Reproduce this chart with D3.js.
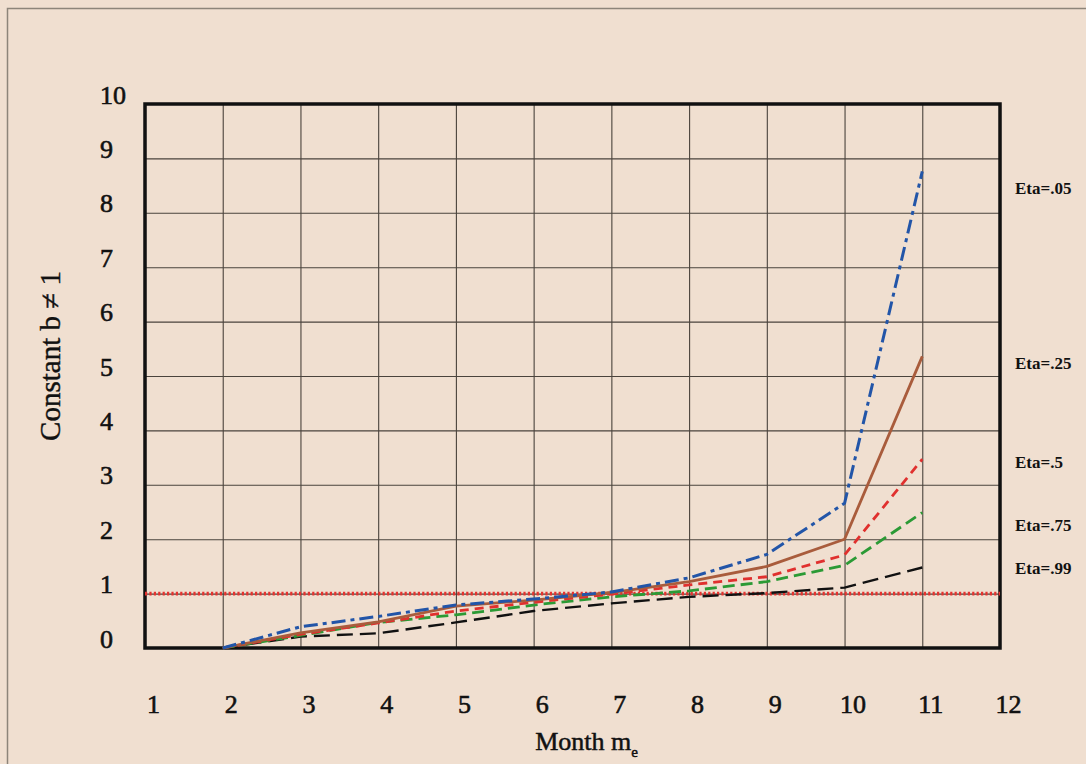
<!DOCTYPE html>
<html>
<head>
<meta charset="utf-8">
<script src="https://cdn.jsdelivr.net/npm/d3@7/dist/d3.min.js"></script>
<style>
  html, body { margin: 0; padding: 0; background: #f0dfd0; }
  svg { display: block; }
  text { font-family: "Liberation Serif", "Times New Roman", serif; fill: #111; }
</style>
</head>
<body>
<svg id="chart" width="1086" height="764"></svg>
<script>
// ---- data ----
const months = [2, 3, 4, 5, 6, 7, 8, 9, 10, 11];
const seriesNames = ["Eta=.05", "Eta=.25", "Eta=.5", "Eta=.75", "Eta=.99"];
const eta05 = [0, 0.39, 0.58, 0.79, 0.90, 1.03, 1.29, 1.72, 2.66, 8.76];
const eta25 = [0, 0.28, 0.48, 0.77, 0.88, 1.02, 1.22, 1.50, 2.00, 5.36];
const eta50 = [0, 0.25, 0.46, 0.68, 0.84, 0.99, 1.16, 1.31, 1.71, 3.47];
const eta75 = [0, 0.23, 0.47, 0.61, 0.79, 0.94, 1.05, 1.22, 1.52, 2.49];
const eta99 = [0, 0.21, 0.27, 0.47, 0.68, 0.82, 0.94, 1.01, 1.11, 1.48];
const labelAt = [8.35, 5.13, 3.31, 2.15, 1.36];   // label anchor values (data units)
const xTicks = [1, 2, 3, 4, 5, 6, 7, 8, 9, 10, 11, 12];
const yTicks = [0, 1, 2, 3, 4, 5, 6, 7, 8, 9, 10];
const referenceValue = 1;

// ---- layout ----
const svg = d3.select("#chart");
const L = 145, R = 1000, T = 104, B = 648;
const x = d3.scaleLinear().domain([1, 12]).range([L, R]);
const y = d3.scaleLinear().domain([0, 10]).range([B, T]);

// outer frame
svg.append("rect").attr("x", 7.5).attr("y", 8.5).attr("width", 1100).attr("height", 800)
  .attr("fill", "none").attr("stroke", "#8d857a").attr("stroke-width", 1.5);

// grid + axes
const gx = svg.append("g").attr("transform", `translate(0,${B})`)
  .call(d3.axisBottom(x).tickValues(xTicks).tickSize(-(B - T)).tickFormat(d3.format("d")));
gx.select(".domain").remove();
gx.selectAll(".tick line").attr("stroke", "#4a433c").attr("stroke-width", 1.1);
gx.selectAll(".tick text").attr("y", 65).attr("dy", 0).attr("x", 8)
  .style("font-size", "26px").style("font-family", "Liberation Serif, serif")
  .attr("fill", "#111").attr("stroke", "#111").attr("stroke-width", 0.6);

const gy = svg.append("g").attr("transform", `translate(${L},0)`)
  .call(d3.axisLeft(y).tickValues(yTicks).tickSize(-(R - L)).tickFormat(d3.format("d")));
gy.select(".domain").remove();
gy.selectAll(".tick line").attr("stroke", "#4a433c").attr("stroke-width", 1.1);
gy.selectAll(".tick text").attr("x", -45).attr("dy", -1).attr("y", 0).attr("text-anchor", "start")
  .style("font-size", "26px").style("font-family", "Liberation Serif, serif")
  .attr("fill", "#111").attr("stroke", "#111").attr("stroke-width", 0.6);

// plot border
svg.append("rect").attr("x", L).attr("y", T).attr("width", R - L).attr("height", B - T)
  .attr("fill", "none").attr("stroke", "#111").attr("stroke-width", 3.5);

// reference line at 1
svg.append("line").attr("x1", x(1)).attr("x2", x(12))
  .attr("y1", y(referenceValue)).attr("y2", y(referenceValue))
  .attr("stroke", "#e5322e").attr("stroke-width", 3.6).attr("stroke-dasharray", "2.2,2.2");

// series
const series = [
  { name: seriesNames[0], values: eta05, color: "#2255a8", dash: "14,5,4,5", w: 3 },
  { name: seriesNames[1], values: eta25, color: "#a95c3c", dash: null, w: 2.8 },
  { name: seriesNames[2], values: eta50, color: "#e0302e", dash: "9,6", w: 2.8 },
  { name: seriesNames[3], values: eta75, color: "#2b9a35", dash: "12,6", w: 2.8 },
  { name: seriesNames[4], values: eta99, color: "#111111", dash: "16,7", w: 2.4 }
];
const line = d3.line().x((d, i) => x(months[i])).y(d => y(d));
[4, 3, 2, 1, 0].forEach(k => {
  const s = series[k];
  svg.append("path").datum(s.values).attr("d", line)
    .attr("fill", "none").attr("stroke", s.color).attr("stroke-width", s.w)
    .attr("stroke-dasharray", s.dash).attr("stroke-linejoin", "round");
});

// labels
series.forEach((s, i) => {
  svg.append("text").attr("x", 1015).attr("y", y(labelAt[i]))
    .style("font-size", "17px").style("font-weight", "bold").text(s.name);
});

// axis titles
const xt = svg.append("text").attr("x", (L + R) / 2 + 14).attr("y", 750)
  .attr("text-anchor", "middle").style("font-size", "26px")
  .attr("stroke", "#111").attr("stroke-width", 0.5);
xt.append("tspan").text("Month m");
xt.append("tspan").attr("dy", 7).style("font-size", "15px").text("e");

svg.append("text").attr("transform", `translate(60,356) rotate(-90)`)
  .attr("text-anchor", "middle").style("font-size", "29px")
  .attr("stroke", "#111").attr("stroke-width", 0.4).text("Constant b \u2260 1");
</script>
</body>
</html>
